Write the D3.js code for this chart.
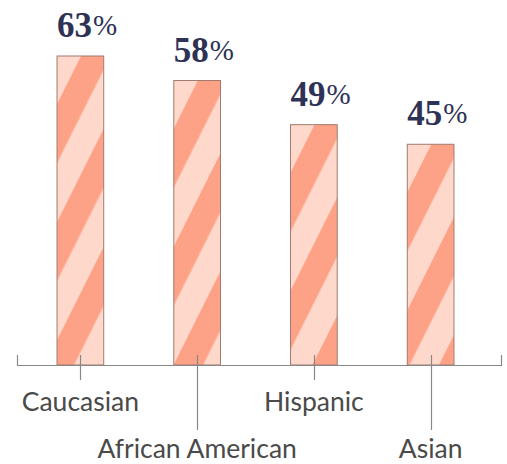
<!DOCTYPE html>
<html>
<head>
<meta charset="utf-8">
<script src="https://cdn.jsdelivr.net/npm/d3@7"></script>
<style>
  body { margin: 0; background: #fff; }
  .cat-label { font-family: Lato, "Open Sans", sans-serif; font-size: 26.5px; fill: #4a4a4a; }
  .num { font-family: "Liberation Serif", serif; font-weight: bold; font-size: 35px; fill: #2e3254; }
  .pct { font-family: "Liberation Serif", serif; font-weight: normal; font-size: 29px; fill: #2e3254; }
</style>
</head>
<body>
<script>
// data
var categories = ["Caucasian", "African American", "Hispanic", "Asian"];
var values = [63, 58, 49, 45];

var width = 507, height = 464;
var baseY = 365;

var svg = d3.select("body").append("svg").attr("width", width).attr("height", height);

var x = d3.scaleBand().domain(categories).range([22, 489]).paddingInner(0.6).paddingOuter(0.3);
var y = d3.scaleLinear().domain([0, 63]).range([baseY, 56]);

// one striped pattern per bar, anchored at the bar's top-left corner
var defs = svg.append("defs");
categories.forEach(function (c, i) {
    var p = defs.append("pattern")
        .attr("id", "stripes" + i)
        .attr("patternUnits", "userSpaceOnUse")
        .attr("width", 52.8)
        .attr("height", 52.8)
        .attr("patternTransform", "translate(" + (x(c) + 24) + "," + y(values[i]) + ") rotate(26.57)");
    p.append("rect").attr("width", 52.8).attr("height", 52.8).attr("fill", "#fed9cb");
    p.append("rect").attr("width", 26.4).attr("height", 52.8).attr("fill", "#fea287");
});

// bars
svg.selectAll("rect.bar").data(values).enter().append("rect")
    .attr("class", "bar")
    .attr("x", function (d, i) { return x(categories[i]); })
    .attr("y", function (d) { return y(d); })
    .attr("width", x.bandwidth())
    .attr("height", function (d) { return baseY - y(d); })
    .attr("fill", function (d, i) { return "url(#stripes" + i + ")"; })
    .attr("stroke", "#a07a70")
    .attr("stroke-width", 1);

// baseline with end ticks
svg.append("path")
    .attr("d", "M17.5," + (baseY - 10) + "V" + (baseY + 0.5) + "H501.5V" + (baseY - 10))
    .attr("fill", "none")
    .attr("stroke", "#888")
    .attr("stroke-width", 1.2);

// category ticks, alternating short and long
var tickEnd = function (i) { return i % 2 === 0 ? 380 : 430; };
svg.selectAll("line.tick").data(categories).enter().append("line")
    .attr("class", "tick")
    .attr("x1", function (d) { return Math.round(x(d) + x.bandwidth() / 2) + 0.5; })
    .attr("x2", function (d) { return Math.round(x(d) + x.bandwidth() / 2) + 0.5; })
    .attr("y1", baseY - 10)
    .attr("y2", function (d, i) { return tickEnd(i); })
    .attr("stroke", "#888")
    .attr("stroke-width", 1.2);

svg.selectAll("text.cat-label").data(categories).enter().append("text")
    .attr("class", "cat-label")
    .attr("x", function (d) { return x(d) + x.bandwidth() / 2; })
    .attr("y", function (d, i) { return i % 2 === 0 ? 411 : 458; })
    .attr("text-anchor", "middle")
    .text(function (d) { return d; });

// value labels
var labels = svg.selectAll("text.value").data(values).enter().append("text")
    .attr("class", "value")
    .attr("x", function (d, i) { return x(categories[i]); })
    .attr("y", function (d) { return y(d) - 19; });
labels.append("tspan").attr("class", "num").text(function (d) { return d; });
labels.append("tspan").attr("class", "pct").attr("dx", 1).attr("dy", -2).text("%");
</script>
</body>
</html>
